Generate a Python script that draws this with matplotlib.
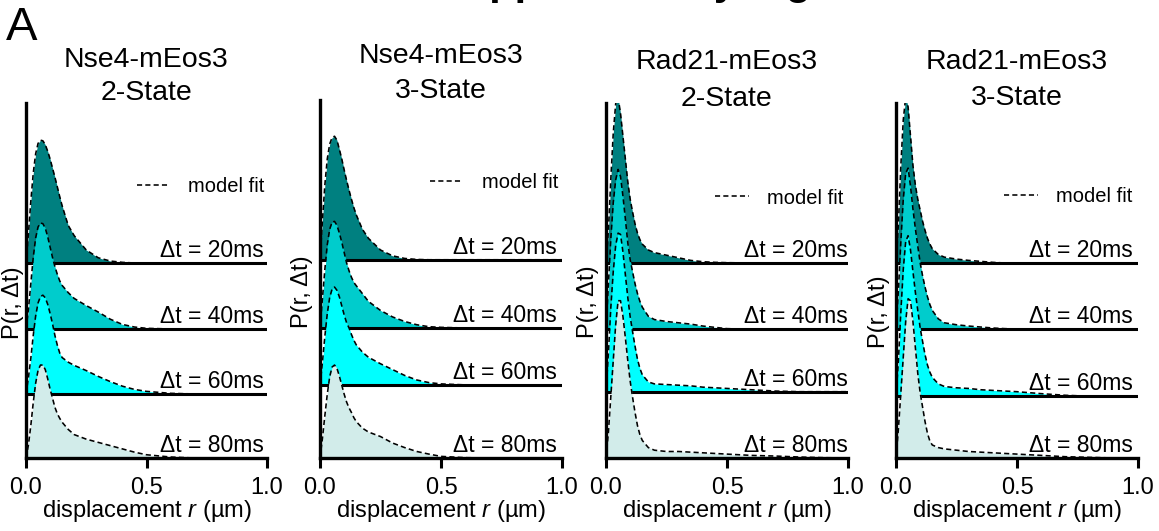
import numpy as np
import matplotlib
matplotlib.use('Agg')
import matplotlib.pyplot as plt

plt.rcParams['font.family'] = ['Liberation Sans', 'DejaVu Sans']
plt.rcParams['mathtext.fontset'] = 'custom'
plt.rcParams['mathtext.rm'] = 'Liberation Sans'
plt.rcParams['mathtext.it'] = 'Liberation Sans:italic'

W, H = 1159, 531

# displacement grid (um), finer near the peak
r = [0.00, 0.01, 0.02, 0.03, 0.04, 0.05, 0.06, 0.07, 0.08, 0.09, 0.10, 0.11,
     0.12, 0.13, 0.14, 0.15, 0.175, 0.20, 0.25, 0.30, 0.35, 0.40, 0.45, 0.50,
     0.60, 0.70, 0.80, 0.90, 1.00]

dt_labels = ['Δt = 20ms', 'Δt = 40ms', 'Δt = 60ms', 'Δt = 80ms']
titles = [('Nse4-mEos3', '2-State'), ('Nse4-mEos3', '3-State'),
          ('Rad21-mEos3', '2-State'), ('Rad21-mEos3', '3-State')]

# P(r, dt), one list per dt (20, 40, 60, 80 ms)
nse4_2state = [
    [0, .45, .95, 1.38, 1.68, 1.84, 1.89, 1.88, 1.82, 1.72, 1.60, 1.46, 1.32, 1.17, 1.02, .88,
     .58, .42, .20, .08, .03, .01, 0, 0, 0, 0, 0, 0, 0],
    [0, .30, .70, 1.10, 1.40, 1.57, 1.63, 1.62, 1.55, 1.42, 1.26, 1.10, .96, .84, .74, .67,
     .56, .47, .36, .26, .15, .07, .03, .01, 0, 0, 0, 0, 0],
    [0, .25, .55, .90, 1.20, 1.40, 1.50, 1.52, 1.48, 1.38, 1.24, 1.08, .90, .75, .63, .56,
     .49, .44, .36, .27, .19, .12, .07, .04, .01, 0, 0, 0, 0],
    [0, .20, .50, .85, 1.15, 1.35, 1.43, 1.43, 1.36, 1.22, 1.06, .92, .78, .68, .61, .55,
     .44, .36, .29, .24, .19, .14, .09, .05, .015, 0, 0, 0, 0],
]
nse4_3state = [
    [0, .60, 1.15, 1.55, 1.78, 1.88, 1.90, 1.84, 1.70, 1.55, 1.38, 1.22, 1.07, .93, .80, .69,
     .47, .33, .15, .06, .02, .005, 0, 0, 0, 0, 0, 0, 0],
    [0, .45, .90, 1.28, 1.52, 1.63, 1.64, 1.58, 1.46, 1.32, 1.16, 1.00, .88, .78, .70, .65,
     .53, .41, .27, .17, .10, .05, .02, .01, 0, 0, 0, 0, 0],
    [0, .35, .75, 1.10, 1.35, 1.48, 1.51, 1.46, 1.36, 1.22, 1.08, .96, .88, .78, .69, .62,
     .51, .43, .33, .24, .15, .08, .04, .02, .005, 0, 0, 0, 0],
    [0, .30, .65, .98, 1.25, 1.40, 1.43, 1.38, 1.26, 1.12, .98, .86, .77, .70, .62, .56,
     .46, .40, .33, .23, .16, .10, .06, .025, .005, 0, 0, 0, 0],
]
rad21_2state = [
    [0, .50, 1.30, 2.00, 2.45, 2.55, 2.30, 1.95, 1.60, 1.25, .98, .78, .60, .46, .36, .29,
     .20, .16, .12, .08, .04, .02, .01, .005, 0, 0, 0, 0, 0],
    [0, .70, 1.40, 1.95, 2.30, 2.46, 2.35, 2.05, 1.70, 1.33, 1.07, .88, .70, .55, .43, .34,
     .20, .15, .12, .10, .08, .05, .03, .01, 0, 0, 0, 0, 0],
    [0, .60, 1.30, 1.85, 2.25, 2.44, 2.42, 2.15, 1.80, 1.45, 1.15, .92, .70, .50, .36, .26,
     .15, .12, .11, .10, .09, .07, .06, .05, .03, .01, 0, 0, 0],
    [0, .40, .95, 1.50, 2.05, 2.42, 2.42, 2.18, 1.85, 1.50, 1.18, .93, .70, .50, .36, .27,
     .16, .12, .10, .10, .09, .08, .07, .06, .04, .03, .015, .005, 0],
]
rad21_3state = [
    [0, .60, 1.50, 2.20, 2.55, 2.40, 1.95, 1.50, 1.20, .98, .81, .64, .50, .38, .29, .22,
     .13, .09, .06, .04, .025, .01, 0, 0, 0, 0, 0, 0, 0],
    [0, .60, 1.35, 2.00, 2.40, 2.48, 2.20, 1.85, 1.55, 1.28, 1.02, .82, .65, .50, .38, .29,
     .16, .10, .07, .05, .035, .02, .01, .005, 0, 0, 0, 0, 0],
    [0, .55, 1.30, 1.95, 2.38, 2.47, 2.25, 1.92, 1.60, 1.32, 1.05, .84, .64, .48, .37, .29,
     .19, .15, .13, .12, .10, .09, .08, .07, .04, .015, 0, 0, 0],
    [0, .45, 1.00, 1.55, 2.10, 2.45, 2.42, 2.10, 1.70, 1.30, 1.00, .78, .56, .38, .26, .20,
     .16, .14, .12, .10, .09, .08, .07, .06, .04, .02, .01, 0, 0],
]
all_data = [nse4_2state, nse4_3state, rad21_2state, rad21_3state]

fill_colors = ['#008080', '#00cccc', '#00ffff', '#d2ecea']

# layout in pixels: axes left/right, axes top, baseline offsets, text spots
bottom_px = 458
unit_px = 65.0
layout = [
    dict(x0=26, x1=267, top=103, offs=[3.0, 1.985, 0.985, 0], lab_x=0.985,
         leg=(0.99, 187), ty=(67, 100), ylab=(13, 303)),
    dict(x0=320, x1=562, top=100, offs=[3.05, 2.0, 1.12, 0], lab_x=0.98,
         leg=(0.983, 183), ty=(63, 98), ylab=(302, 292)),
    dict(x0=606, x1=848, top=103, offs=[3.0, 1.98, 1.02, 0], lab_x=1.0,
         leg=(0.98, 198), ty=(69, 106), ylab=(588, 302)),
    dict(x0=896, x1=1138, top=103, offs=[3.0, 1.98, 0.95, 0], lab_x=0.98,
         leg=(0.976, 197), ty=(69, 105), ylab=(879, 312)),
]

fig = plt.figure(figsize=(W / 100, H / 100), dpi=100)

for data, lay, (t1, t2) in zip(all_data, layout, titles):
    ax = fig.add_axes([lay['x0'] / W, (H - bottom_px) / H,
                       (lay['x1'] - lay['x0']) / W, (bottom_px - lay['top']) / H])
    ax.set_xlim(0, 1)
    ax.set_ylim(0, (bottom_px - lay['top']) / unit_px)

    for i, (vals, off) in enumerate(zip(data, lay['offs'])):
        y = off + np.array(vals)
        ax.fill_between(r, off, y, color=fill_colors[i], lw=0, zorder=2 + 3 * i)
        ax.plot(r, y, color='k', ls=(0, (3.2, 2.0)), lw=1.15, zorder=3 + 3 * i,
                label='model fit' if i == 0 else None)
        if off > 0:
            ax.axhline(off, color='k', lw=2.2, zorder=4 + 3 * i)
        ax.text(lay['lab_x'], off + 0.09, dt_labels[i], ha='right', va='baseline',
                fontsize=16.5, zorder=30)

    lx, ly = lay['leg']
    ax.legend(loc='center right', bbox_to_anchor=(lx, (bottom_px - ly) / unit_px),
              bbox_transform=ax.transData, frameon=False, fontsize=14.5,
              handlelength=1.65, handletextpad=0.9, borderpad=0, borderaxespad=0)

    for s in ['top', 'right']:
        ax.spines[s].set_visible(False)
    for s in ['left', 'bottom']:
        ax.spines[s].set_linewidth(2.4)
        ax.spines[s].set_zorder(40)
    ax.set_yticks([])
    ax.set_xticks([0, 0.5, 1.0])
    ax.set_xticklabels(['0.0', '0.5', '1.0'])
    ax.tick_params(axis='x', length=7, width=2.2, pad=7, labelsize=17)
    ax.set_xlabel('displacement $\\mathit{r}$ (µm)', fontsize=17)
    ax.xaxis.set_label_coords(0.5, -0.112)

    cx = (lay['x0'] + lay['x1']) / 2 / W
    fig.text(cx, 1 - lay['ty'][0] / H, t1, ha='center', va='baseline', fontsize=20.5)
    fig.text(cx, 1 - lay['ty'][1] / H, t2, ha='center', va='baseline', fontsize=20.5)
    yx, yy = lay['ylab']
    fig.text(yx / W, 1 - yy / H, 'P(r, Δt)', rotation=90, ha='center', va='center',
             fontsize=17)

fig.text(6 / W, 1 - 40 / H, 'A', fontsize=34, va='baseline')
fig.text(436 / W, 1 + 6 / H, 'Supplementary Figure', fontsize=30,
         fontweight='bold', va='baseline')

fig.savefig('out.png', dpi=100)
